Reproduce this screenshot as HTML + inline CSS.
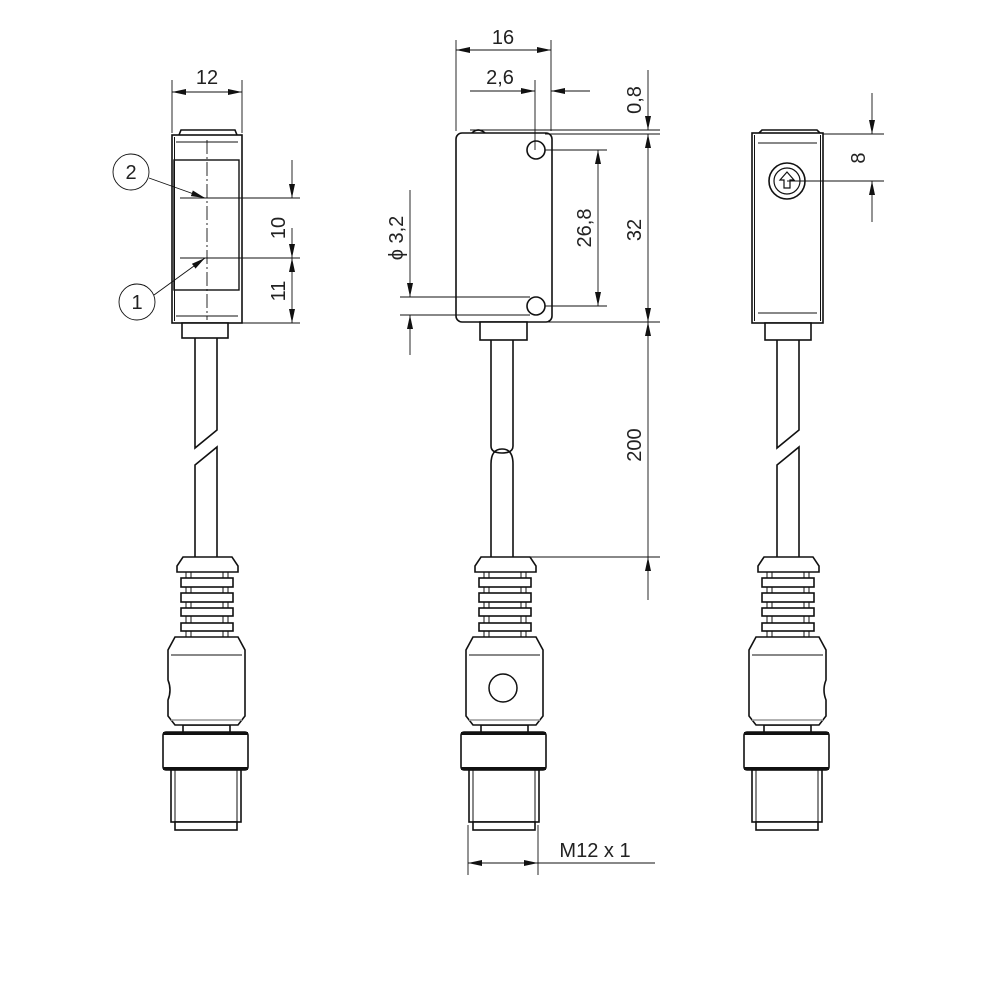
<!DOCTYPE html>
<html><head><meta charset="utf-8"><style>
html,body{margin:0;padding:0;background:#fff}
svg{display:block}
text{font-family:"Liberation Sans Narrow","Liberation Sans",sans-serif;font-size:20px;fill:#222}
</style></head><body>
<svg width="1000" height="1000" viewBox="0 0 1000 1000" xmlns="http://www.w3.org/2000/svg">
<defs>
<marker id="a" viewBox="0 0 14 6" refX="14" refY="3" markerUnits="userSpaceOnUse" markerWidth="14" markerHeight="6" orient="auto"><path d="M0,0 L14,3 L0,6z" fill="#111"/></marker>
<g id="conn" fill="#fff" stroke="#111" stroke-width="1.6">
<polygon points="183,557 232,557 238,566 238,572 177,572 177,566"/>
<line x1="186" y1="572" x2="186" y2="637" stroke-width="1"/><line x1="191" y1="572" x2="191" y2="637" stroke-width="1"/>
<line x1="223" y1="572" x2="223" y2="637" stroke-width="1"/><line x1="228" y1="572" x2="228" y2="637" stroke-width="1"/>
<rect x="181" y="578" width="52" height="9"/>
<rect x="181" y="593" width="52" height="9"/>
<rect x="181" y="608" width="52" height="8"/>
<rect x="181" y="623" width="52" height="8"/>
<rect x="183" y="725" width="47" height="8"/>
<rect x="163" y="732" width="85" height="38" rx="3"/>
<line x1="163" y1="733.5" x2="248" y2="733.5" stroke-width="3"/>
<line x1="163" y1="768.5" x2="248" y2="768.5" stroke-width="3"/>
<rect x="171" y="770" width="70" height="52"/>
<line x1="175" y1="770" x2="175" y2="822" stroke-width="1"/><line x1="237" y1="770" x2="237" y2="822" stroke-width="1"/>
<rect x="175" y="822" width="62" height="8"/>
</g>
</defs>
<g fill="none" stroke="#111">
<!-- LEFT VIEW -->
<g stroke-width="1.6">
<path d="M179,135 L181,130 L235,130 L237,135" fill="#fff"/>
<rect x="172" y="135" width="70" height="188" fill="#fff"/>
<line x1="174.5" y1="137" x2="174.5" y2="321" stroke-width="1"/>
<rect x="174" y="160" width="65" height="130" stroke-width="1.4"/>
<rect x="182" y="323" width="46" height="15" fill="#fff"/>
<path d="M195,338 V448 L217,430 V338"/>
<path d="M195,557 V465 L217,447 V557"/>
</g>
<g stroke-width="0.9">
<line x1="176" y1="142" x2="238" y2="142"/><line x1="176" y1="316" x2="238" y2="316"/>
<line x1="207" y1="140" x2="207" y2="320" stroke-dasharray="14,3,2,3"/>
<line x1="180" y1="198" x2="300" y2="198"/><line x1="180" y1="258" x2="300" y2="258"/>
<line x1="242" y1="323" x2="300" y2="323"/>
<line x1="172" y1="80" x2="172" y2="133"/><line x1="242" y1="80" x2="242" y2="133"/>
<line x1="207" y1="92" x2="172" y2="92" marker-end="url(#a)"/><line x1="207" y1="92" x2="242" y2="92" marker-end="url(#a)"/>
<line x1="292" y1="160" x2="292" y2="198" marker-end="url(#a)"/>
<line x1="292" y1="228" x2="292" y2="258" marker-end="url(#a)"/>
<line x1="292" y1="290" x2="292" y2="258" marker-end="url(#a)"/>
<line x1="292" y1="290" x2="292" y2="323" marker-end="url(#a)"/>
<circle cx="131" cy="172" r="18"/><circle cx="137" cy="302" r="18"/>
<line x1="149" y1="178" x2="205" y2="198" marker-end="url(#a)"/>
<line x1="154" y1="295" x2="205" y2="258" marker-end="url(#a)"/>
</g>
<use href="#conn"/>
<path d="M175,637 L238,637 L245,650 L245,716 L238,725 L175,725 L168,716 L168,700 Q172,690 168,680 L168,650 Z" fill="#fff" stroke-width="1.6"/>
<line x1="171" y1="655" x2="242" y2="655" stroke-width="1"/>
<line x1="171" y1="720" x2="242" y2="720" stroke="#999" stroke-width="1.5"/>

<!-- MIDDLE VIEW -->
<g stroke-width="1.6">
<path d="M472,133 Q478,127 485,133" fill="#fff"/>
<rect x="456" y="133" width="96" height="189" rx="6" fill="#fff"/>
<circle cx="536" cy="150" r="9"/><circle cx="536" cy="306" r="9"/>
<rect x="480" y="322" width="47" height="18" fill="#fff"/>
<path d="M491,340 V446 Q491,453 502,453 Q513,453 513,446 V340"/>
<path d="M491,557 V464 Q491,449 502,449 Q513,449 513,464 V557"/>
</g>
<g stroke-width="0.9">
<line x1="456" y1="40" x2="456" y2="131"/><line x1="551" y1="40" x2="551" y2="131"/>
<line x1="503" y1="50" x2="456" y2="50" marker-end="url(#a)"/><line x1="503" y1="50" x2="551" y2="50" marker-end="url(#a)"/>
<line x1="535" y1="80" x2="535" y2="150"/>
<line x1="470" y1="91" x2="535" y2="91" marker-end="url(#a)"/>
<line x1="590" y1="91" x2="551" y2="91" marker-end="url(#a)"/>
<line x1="470" y1="130" x2="660" y2="130"/><line x1="545" y1="134" x2="660" y2="134"/>
<line x1="545" y1="150" x2="607" y2="150"/><line x1="545" y1="306" x2="607" y2="306"/>
<line x1="400" y1="297" x2="530" y2="297"/><line x1="400" y1="315" x2="530" y2="315"/>
<line x1="545" y1="322" x2="660" y2="322"/><line x1="515" y1="557" x2="660" y2="557"/>
<line x1="648" y1="70" x2="648" y2="130" marker-end="url(#a)"/>
<line x1="648" y1="230" x2="648" y2="134" marker-end="url(#a)"/>
<line x1="648" y1="230" x2="648" y2="322" marker-end="url(#a)"/>
<line x1="648" y1="440" x2="648" y2="322" marker-end="url(#a)"/>
<line x1="648" y1="600" x2="648" y2="557" marker-end="url(#a)"/>
<line x1="648" y1="440" x2="648" y2="557"/>
<line x1="598" y1="228" x2="598" y2="150" marker-end="url(#a)"/>
<line x1="598" y1="228" x2="598" y2="306" marker-end="url(#a)"/>
<line x1="410" y1="190" x2="410" y2="297" marker-end="url(#a)"/>
<line x1="410" y1="355" x2="410" y2="315" marker-end="url(#a)"/>
<line x1="468" y1="825" x2="468" y2="875"/><line x1="538" y1="825" x2="538" y2="875"/>
<line x1="503" y1="863" x2="468" y2="863" marker-end="url(#a)"/>
<line x1="503" y1="863" x2="538" y2="863" marker-end="url(#a)"/>
<line x1="538" y1="863" x2="655" y2="863"/>
</g>
<use href="#conn" transform="translate(298,0)"/>
<path d="M473,637 L536,637 L543,650 L543,716 L536,725 L473,725 L466,716 L466,650 Z" fill="#fff" stroke-width="1.6"/>
<line x1="469" y1="655" x2="540" y2="655" stroke-width="1"/>
<line x1="469" y1="720" x2="540" y2="720" stroke="#999" stroke-width="1.5"/>
<circle cx="503" cy="688" r="14" stroke-width="1.5"/>

<!-- RIGHT VIEW -->
<g stroke-width="1.6">
<path d="M759,133 L762,130 L817,130 L820,133" fill="#fff"/>
<rect x="752" y="133" width="71" height="190" fill="#fff"/>
<line x1="754.5" y1="135" x2="754.5" y2="321" stroke-width="1"/>
<line x1="820.5" y1="135" x2="820.5" y2="321" stroke-width="1"/>
<circle cx="787" cy="181" r="18"/>
<circle cx="787" cy="181" r="13" stroke-width="1.2"/>
<path d="M784,188 V180 H780 L787,172 L794,180 H790 V188 Z" stroke-width="1.2"/>
<rect x="765" y="323" width="46" height="17" fill="#fff"/>
<path d="M777,340 V448 L799,430 V340"/>
<path d="M777,557 V465 L799,447 V557"/>
</g>
<g stroke-width="0.9">
<line x1="758" y1="143" x2="817" y2="143"/><line x1="758" y1="313" x2="817" y2="313"/>
<line x1="823" y1="134" x2="884" y2="134"/><line x1="787" y1="181" x2="884" y2="181"/>
<line x1="872" y1="93" x2="872" y2="134" marker-end="url(#a)"/>
<line x1="872" y1="222" x2="872" y2="181" marker-end="url(#a)"/>
</g>
<use href="#conn" transform="translate(581,0)"/>
<path d="M756,637 L819,637 L826,650 L826,680 Q822,690 826,700 L826,716 L819,725 L756,725 L749,716 L749,650 Z" fill="#fff" stroke-width="1.6"/>
<line x1="752" y1="655" x2="823" y2="655" stroke-width="1"/>
<line x1="752" y1="720" x2="823" y2="720" stroke="#999" stroke-width="1.5"/>
</g>

<!-- TEXT -->
<text x="207" y="84" text-anchor="middle">12</text>
<text x="131" y="179" text-anchor="middle">2</text>
<text x="137" y="309" text-anchor="middle">1</text>
<text transform="translate(285,228) rotate(-90)" text-anchor="middle">10</text>
<text transform="translate(285,291) rotate(-90)" text-anchor="middle">11</text>
<text x="503" y="44" text-anchor="middle">16</text>
<text x="500" y="84" text-anchor="middle">2,6</text>
<text transform="translate(641,100) rotate(-90)" text-anchor="middle">0,8</text>
<text transform="translate(641,230) rotate(-90)" text-anchor="middle">32</text>
<text transform="translate(591,228) rotate(-90)" text-anchor="middle">26,8</text>
<text transform="translate(641,445) rotate(-90)" text-anchor="middle">200</text>
<text transform="translate(403,238) rotate(-90)" text-anchor="middle">ϕ 3,2</text>
<text x="595" y="857" text-anchor="middle">M12 x 1</text>
<text transform="translate(865,158) rotate(-90)" text-anchor="middle">8</text>
</svg>
</body></html>
